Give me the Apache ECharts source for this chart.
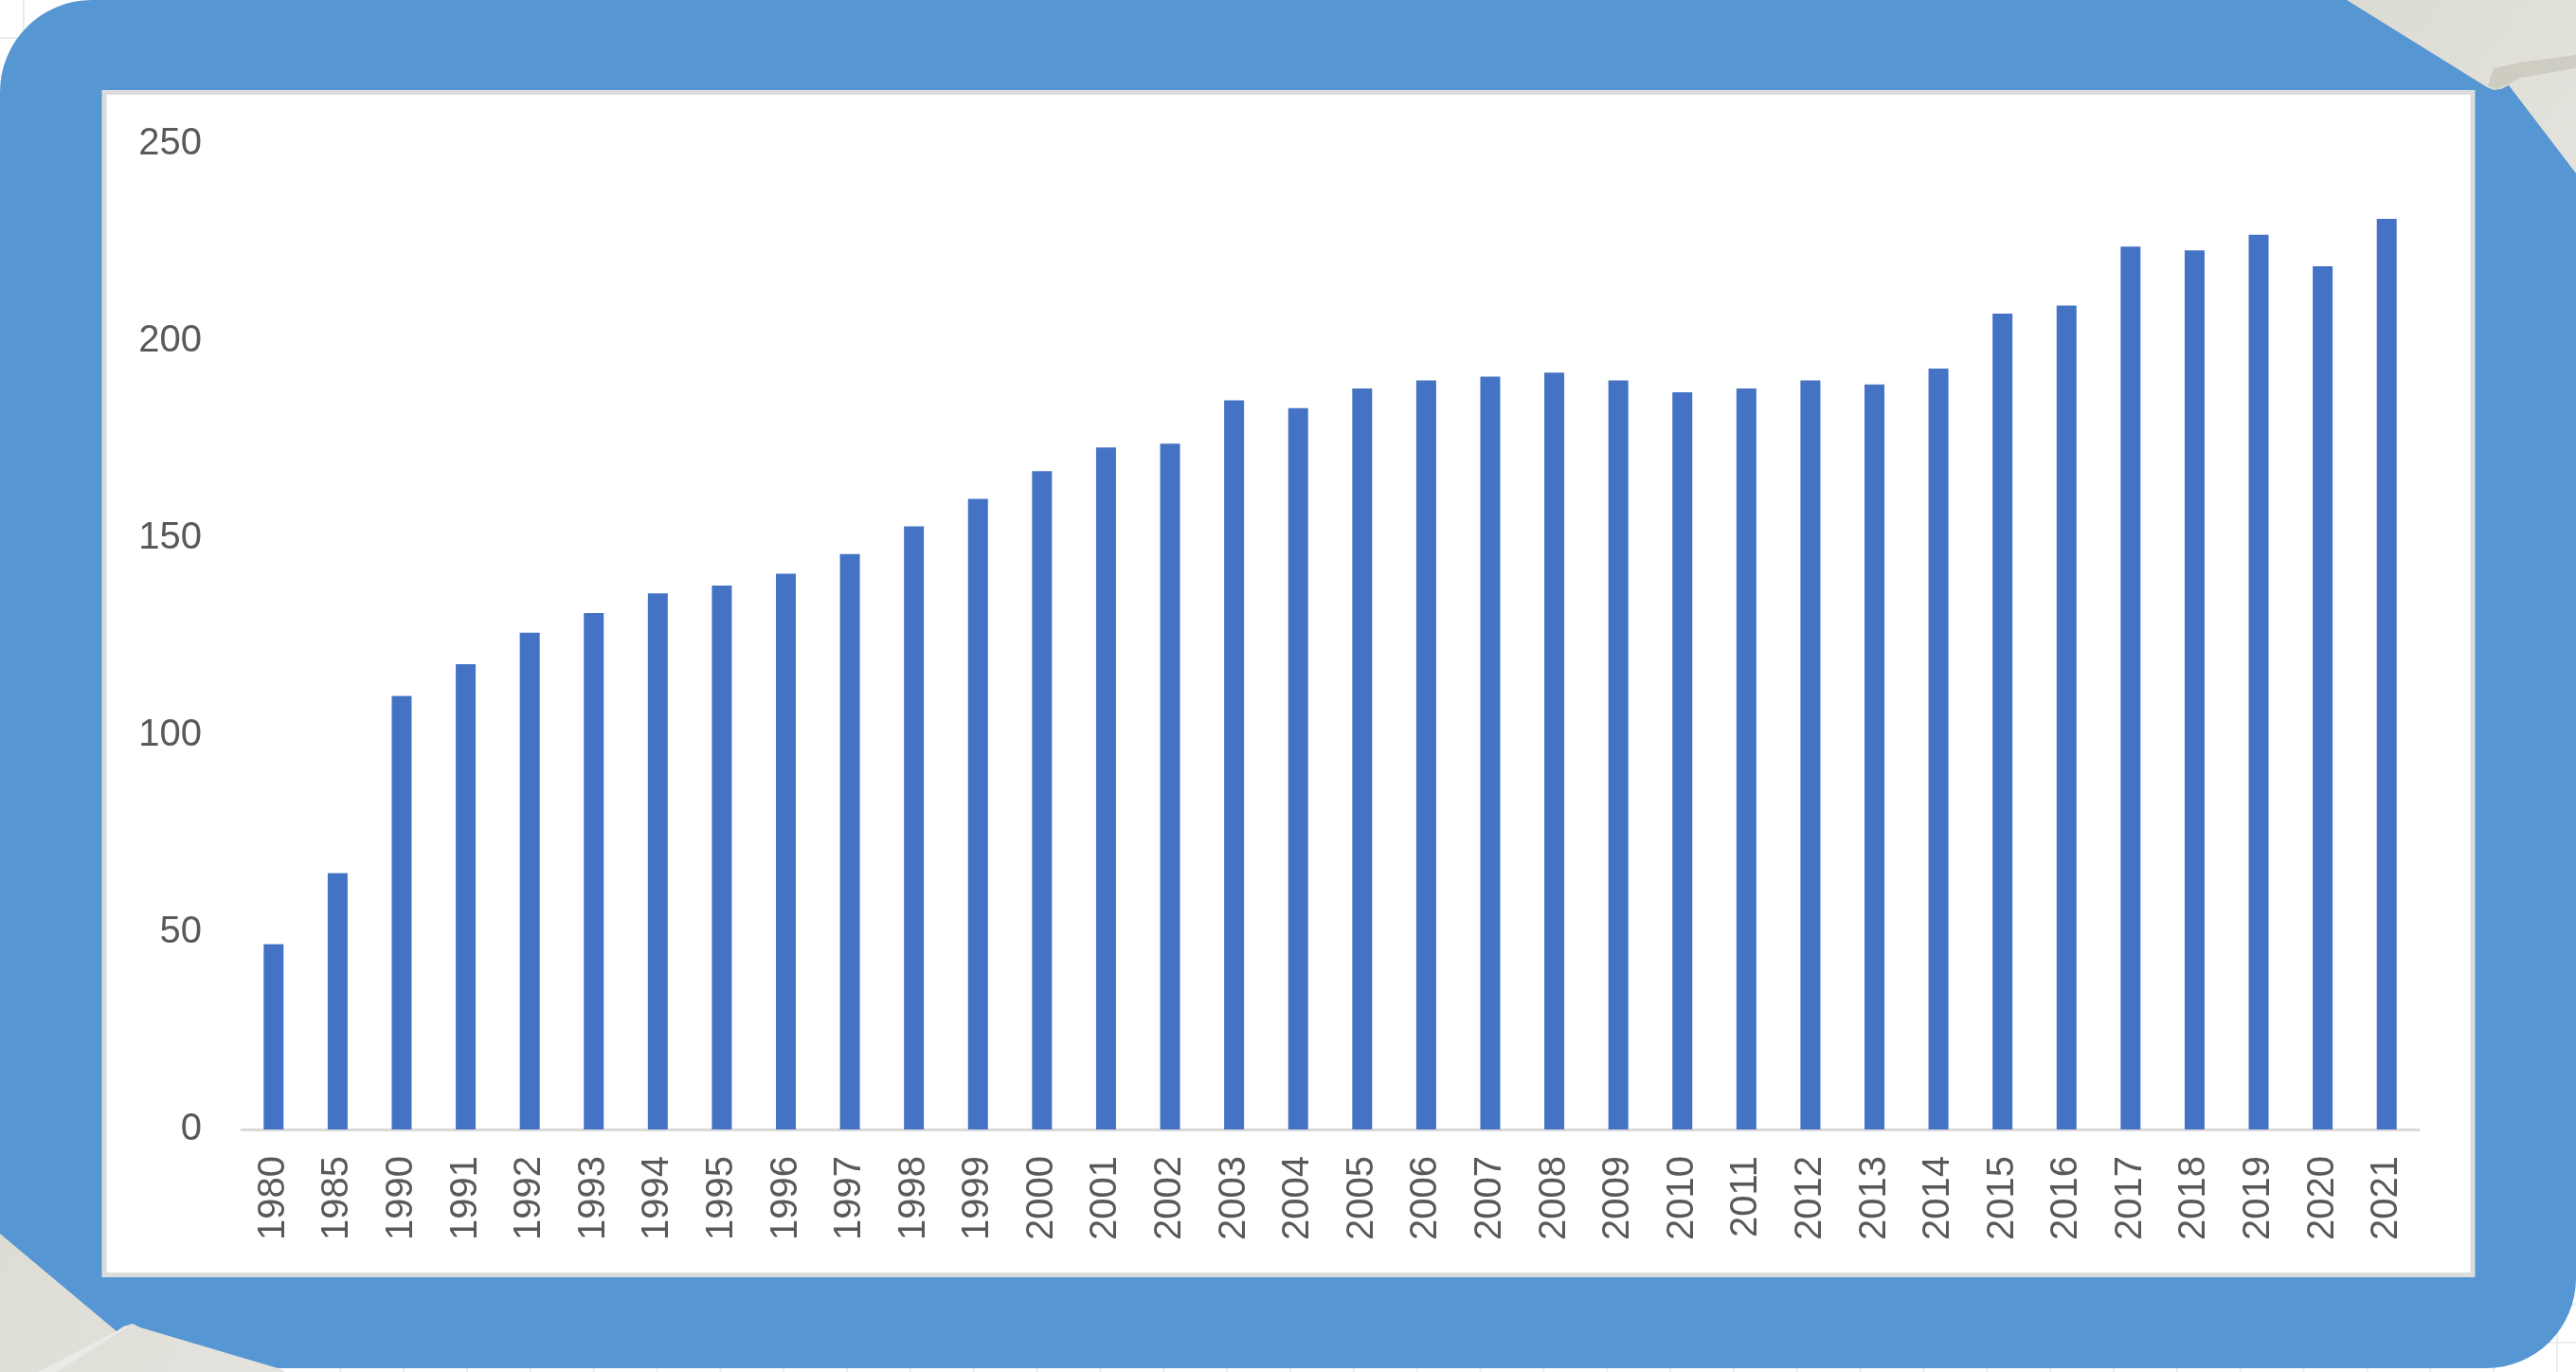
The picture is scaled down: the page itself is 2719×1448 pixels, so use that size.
<!DOCTYPE html>
<html>
<head>
<meta charset="utf-8">
<script src="https://cdn.jsdelivr.net/npm/echarts@6/dist/echarts.min.js"></script>
<style>
html,body{margin:0;padding:0;background:#ffffff;}
#chart{width:2719px;height:1448px;}
</style>
</head>
<body>
<div id="chart"></div>
<script>
const categories = ['1980','1985','1990','1991','1992','1993','1994','1995','1996','1997','1998','1999','2000','2001','2002','2003','2004','2005','2006','2007','2008','2009','2010','2011','2012','2013','2014','2015','2016','2017','2018','2019','2020','2021'];
const values = [47,65,110,118,126,131,136,138,141,146,153,160,167,173,174,185,183,188,190,191,192,190,187,188,190,189,193,207,209,224,223,227,219,231];
const yMin = 0, yMax = 250, yStep = 50;

const W = 2719, H = 1448;
const graphics = [];
// faint spreadsheet grid behind the frame
for (let x = 25; x < W; x += 66.85) {
  graphics.push({type:'line', z:-30, silent:true, shape:{x1:x,y1:0,x2:x,y2:H}, style:{stroke:'#ececec', lineWidth:2}});
}
for (let y = 40; y < H; y += 40.5) {
  graphics.push({type:'line', z:-30, silent:true, shape:{x1:0,y1:y,x2:W,y2:y}, style:{stroke:'#ececec', lineWidth:2}});
}
// blue frame
graphics.push({type:'rect', z:-20, silent:true, shape:{x:0,y:0,width:W,height:1444,r:[97,97,95,97]}, style:{fill:'#5596d3'}});
// white chart panel
graphics.push({type:'rect', z:-15, silent:true, shape:{x:110,y:97.5,width:2500,height:1248}, style:{fill:'#ffffff', stroke:'#dcdcdc', lineWidth:5}});
// top-right tape
graphics.push({type:'polygon', z:-10, silent:true, shape:{points:[[2477,0],[2625,92],[2632,95],[2640,94],[2648,90],[2719,183],[2719,0]]},
  style:{fill:{type:'linear',x:0,y:0,x2:1,y2:1,colorStops:[{offset:0,color:'#dcdbd3'},{offset:1,color:'#e3e2dc'}]}}});
graphics.push({type:'polygon', z:-9, silent:true, shape:{points:[[2626,91],[2632,72],[2660,66],[2719,58],[2719,72],[2660,82],[2648,89],[2636,94]]},
  style:{fill:'rgba(140,135,115,0.22)'}});
// bottom-left tape
graphics.push({type:'polygon', z:-10, silent:true, shape:{points:[[0,1302],[123,1405],[130,1400],[140,1397],[148,1401],[300,1446],[300,1448],[0,1448]]},
  style:{fill:{type:'linear',x:0,y:0,x2:1,y2:1,colorStops:[{offset:0,color:'#dddcd5'},{offset:1,color:'#e4e3dd'}]}}});
graphics.push({type:'polygon', z:-9, silent:true, shape:{points:[[123,1405],[140,1397],[60,1448],[40,1448]]},
  style:{fill:'rgba(255,255,255,0.35)'}});

const chart = echarts.init(document.getElementById('chart'), null, {renderer:'canvas'});
chart.setOption({
  backgroundColor:'#ffffff',
  animation:false,
  graphic: graphics,
  grid:{left:255, right:166, top:152, bottom:256, containLabel:false},
  xAxis:{
    type:'category',
    data:categories,
    axisLine:{show:true, lineStyle:{color:'#d9d9d9', width:3}},
    axisTick:{show:false},
    axisLabel:{interval:0, rotate:90, margin:28, color:'#595959', fontSize:40, fontFamily:'Liberation Sans'},
    splitLine:{show:false}
  },
  yAxis:{
    type:'value',
    min:yMin, max:yMax, interval:yStep,
    axisLine:{show:false},
    axisTick:{show:false},
    splitLine:{show:false},
    axisLabel:{margin:42, color:'#595959', fontSize:40, fontFamily:'Liberation Sans'}
  },
  series:[{
    type:'bar',
    data:values,
    barWidth:21,
    itemStyle:{color:'#4472c4'}
  }]
});
</script>
</body>
</html>
